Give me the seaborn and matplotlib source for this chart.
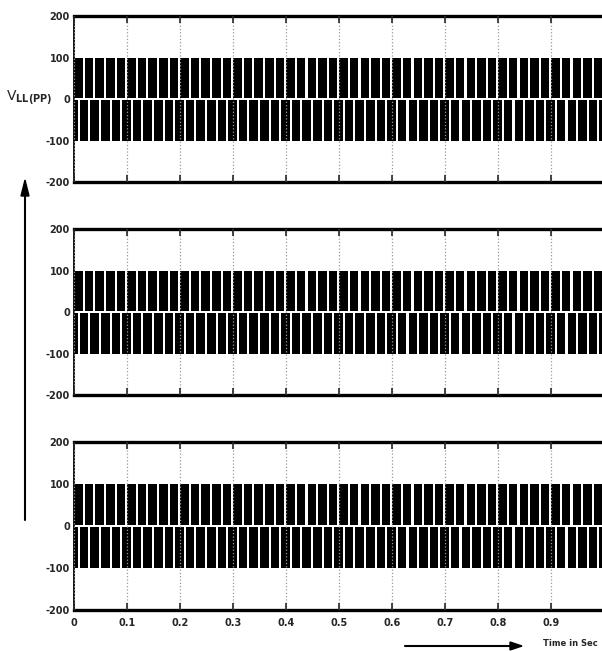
import numpy as np
import matplotlib.pyplot as plt
import seaborn as sns

# waveform data (pulse train)
panel_amplitude = [100, 100, 100]        # peak of the line voltage, V
zero_gap = 3                             # thin white band at 0 V
pulse_period = 0.02                      # s, 50 Hz
pulse_width = 0.016                      # s
pos_phase = 0.0005                       # first positive pulse start
neg_phase = -0.009                       # negative pulses are shifted half a period
n_pulses = 51

x_ticks = [0, 0.1, 0.2, 0.3, 0.4, 0.5, 0.6, 0.7, 0.8, 0.9]
x_labels = ['0', '0.1', '0.2', '0.3', '0.4', '0.5', '0.6', '0.7', '0.8', '0.9']
y_ticks = [200, 100, 0, -100, -200]
y_labels = ['200', '100', '0', '-100', '-200']

sns.set_theme(style="white")
plt.rcParams['font.family'] = ['DejaVu Sans Condensed', 'DejaVu Sans']

fig = plt.figure(figsize=(6.02, 6.51), dpi=100)
boxes = [(0.1229, 0.7204, 0.8771, 0.2550),
         (0.1229, 0.3932, 0.8771, 0.2550),
         (0.1229, 0.0630, 0.8771, 0.2580)]

pos_starts = pos_phase + pulse_period * np.arange(n_pulses)
neg_starts = neg_phase + pulse_period * np.arange(n_pulses)

for i, box in enumerate(boxes):
    ax = fig.add_axes(box)
    amp = panel_amplitude[i]
    ax.bar(pos_starts, amp - zero_gap, bottom=zero_gap, width=pulse_width,
           align='edge', color='black', linewidth=0)
    ax.bar(neg_starts, -(amp - zero_gap), bottom=-zero_gap, width=pulse_width,
           align='edge', color='black', linewidth=0)
    ax.set_xlim(0, 0.996)
    ax.set_ylim(-200, 200)
    ax.set_xticks(x_ticks)
    ax.set_yticks(y_ticks)
    ax.set_yticklabels(y_labels, fontsize=7, fontweight='bold')
    if i == 2:
        ax.set_xticklabels(x_labels, fontsize=7, fontweight='bold')
    else:
        ax.set_xticklabels([])
    ax.tick_params(axis='x', direction='in', top=True, bottom=True, length=5, width=1.2, pad=6)
    ax.tick_params(axis='y', direction='in', left=True, length=0, pad=3)
    ax.grid(axis='x', linestyle=':', color='#999999', linewidth=0.9)
    ax.set_axisbelow(False)
    for s in ['top', 'bottom']:
        ax.spines[s].set_linewidth(2.4)
        ax.spines[s].set_color('black')
    ax.spines['left'].set_linewidth(1.3)
    ax.spines['left'].set_color('black')
    ax.spines['right'].set_visible(False)

fig.text(0.01, 1 - 97 / 651, r'$\mathrm{V}_{\mathbf{LL(PP)}}$', fontsize=10,
         va='center', ha='left')

fig.add_artist(plt.Line2D([25 / 602, 25 / 602], [1 - 520 / 651, 1 - 195 / 651],
                          color='black', linewidth=1.5))
fig.patches.append(plt.Polygon([[21 / 602, 1 - 196 / 651], [29 / 602, 1 - 196 / 651],
                                [25 / 602, 1 - 180 / 651]], closed=True,
                               color='black', transform=fig.transFigure, figure=fig))

fig.add_artist(plt.Line2D([405 / 602, 512 / 602], [1 - 646 / 651, 1 - 646 / 651],
                          color='black', linewidth=1.5))
fig.patches.append(plt.Polygon([[510 / 602, 1 - 642 / 651], [510 / 602, 1 - 650 / 651],
                                [522 / 602, 1 - 646 / 651]], closed=True,
                               color='black', transform=fig.transFigure, figure=fig))
fig.text(543 / 602, 1 - 644 / 651, 'Time in Sec', fontsize=6, fontweight='bold',
         va='center', ha='left')

plt.savefig('out.png', dpi=100)
